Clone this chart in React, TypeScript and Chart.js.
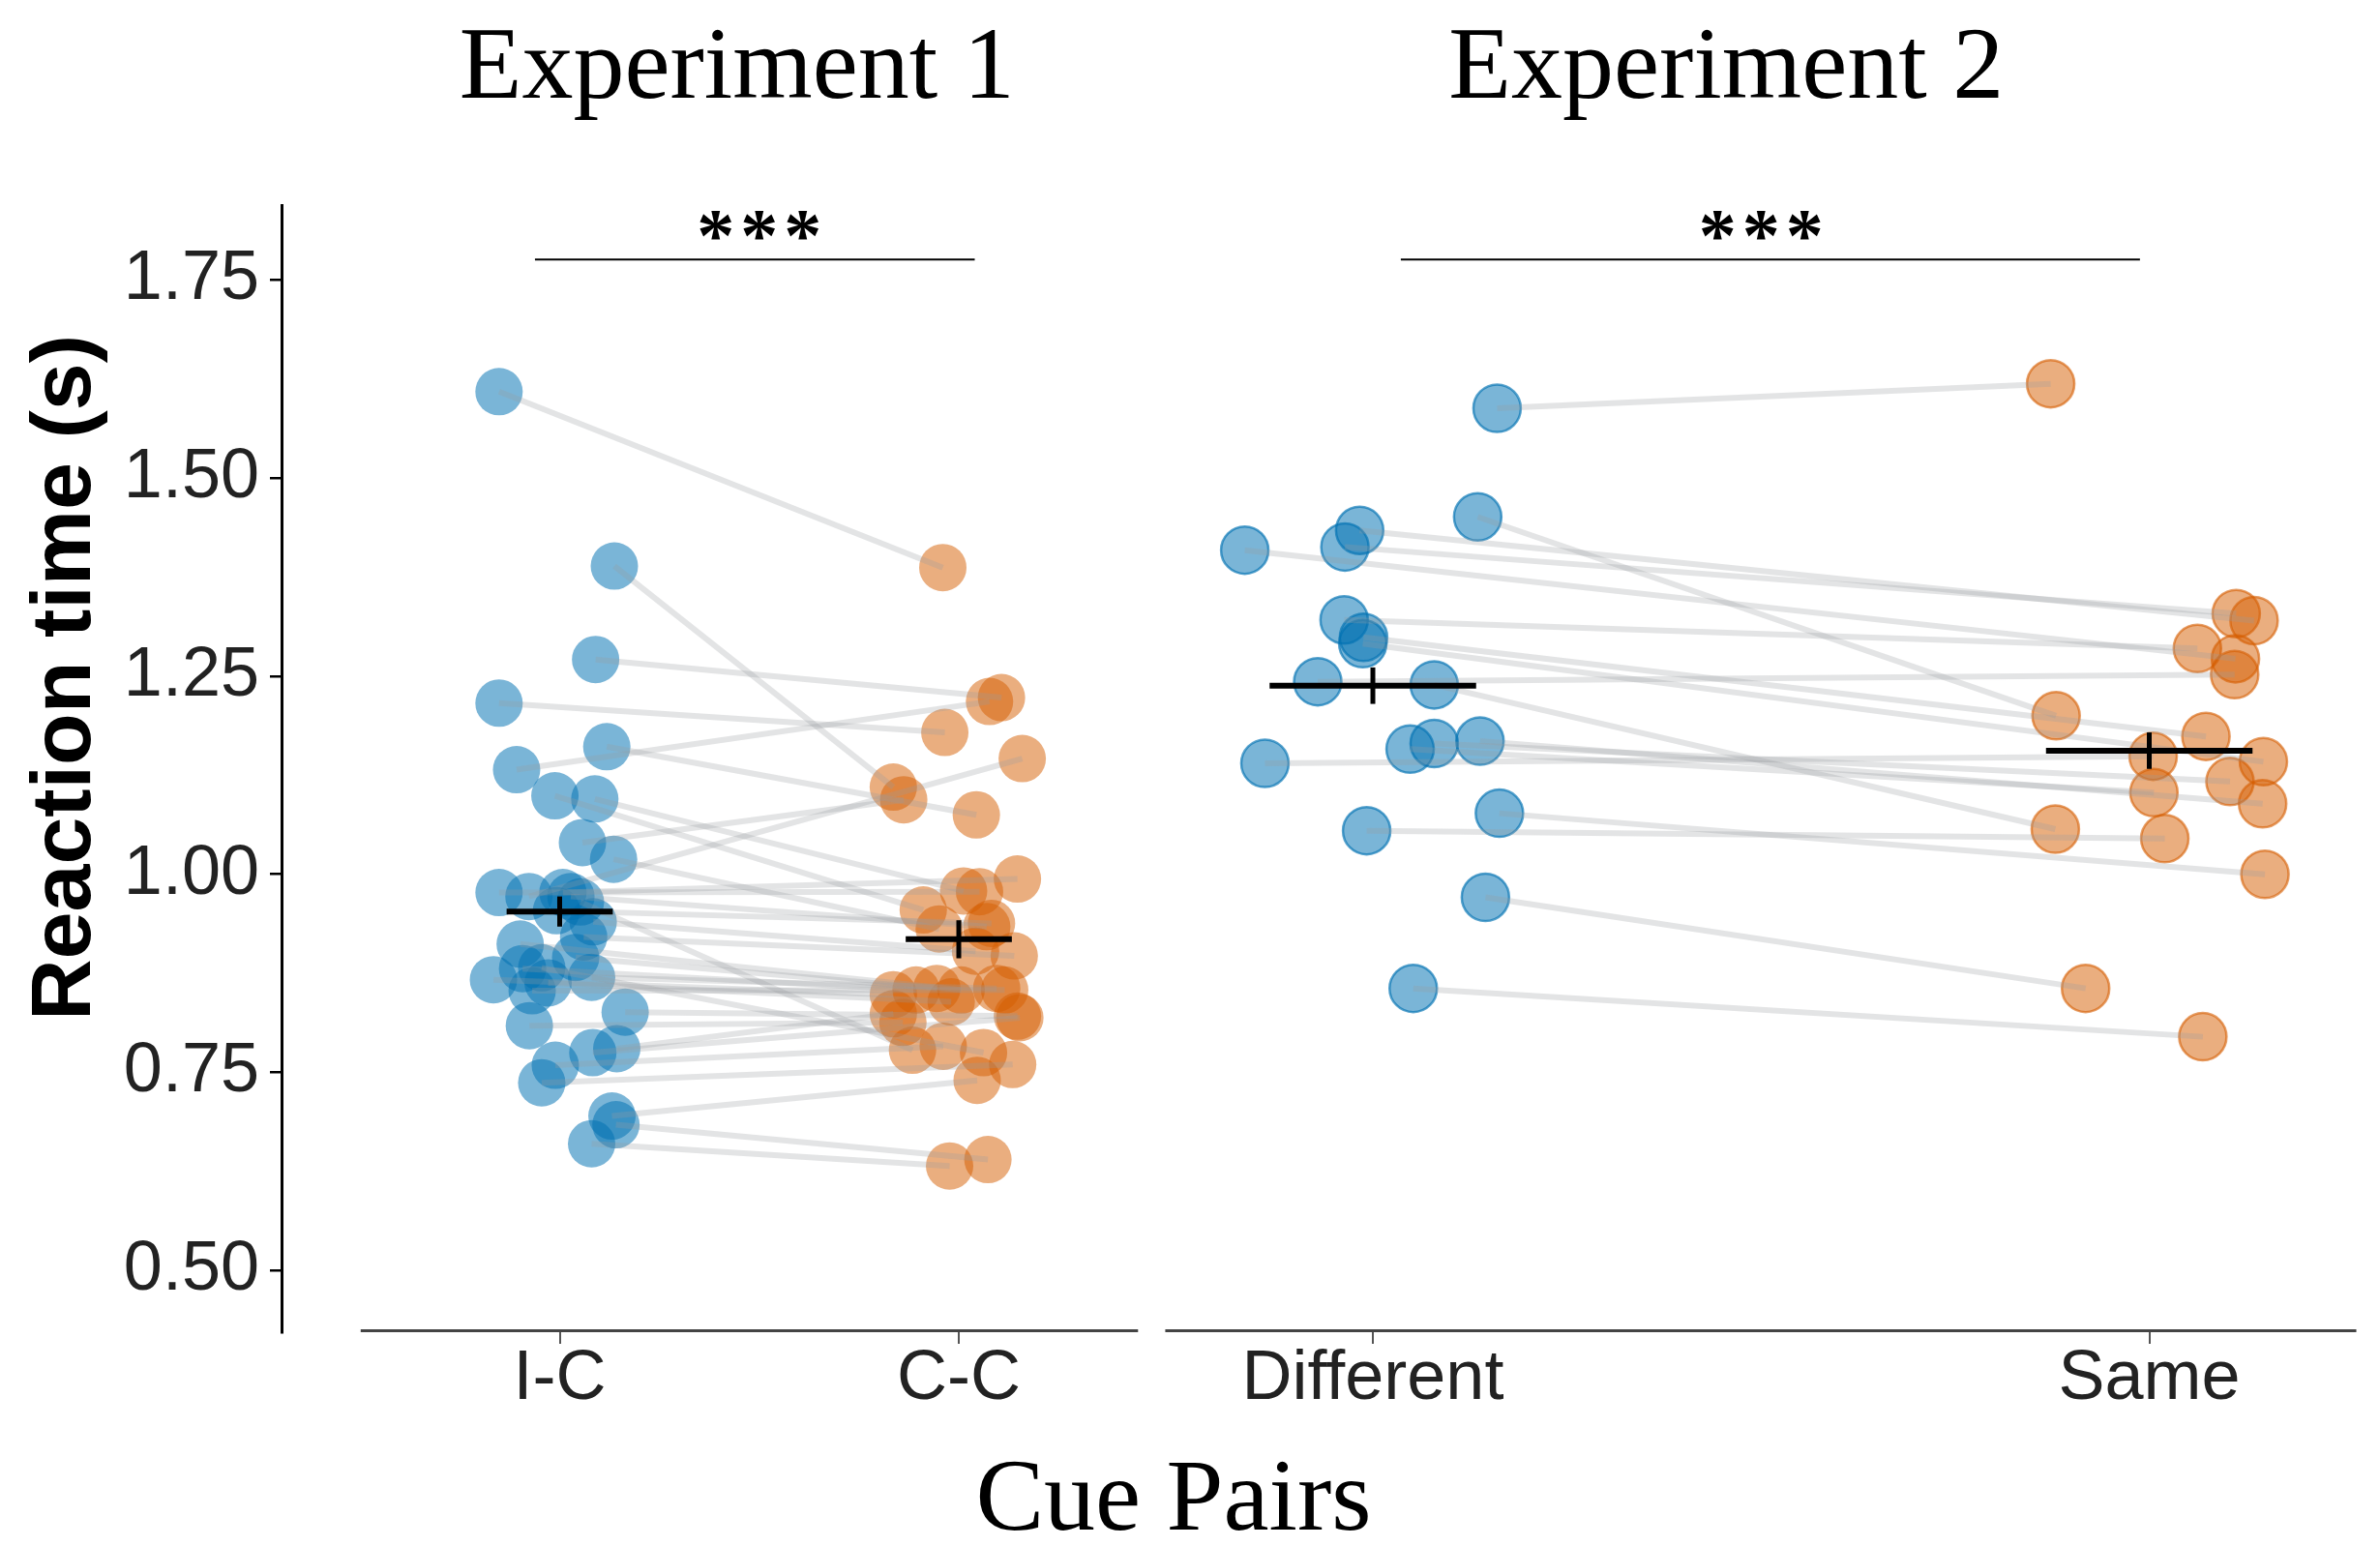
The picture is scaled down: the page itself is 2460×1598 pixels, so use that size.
import React, { useEffect, useRef } from 'react';
import { Chart, registerables } from 'chart.js';

Chart.register(...registerables);

// ---------------- DATA ----------------
// Experiment 1: one entry per subject, paired I-C / C-C reaction times (s)
const exp1IC = [
  1.609, 1.389, 1.271, 1.216, 1.161, 1.132, 1.099, 1.095, 1.040, 1.019,
  0.977, 0.972, 0.977, 0.972, 0.954, 0.940, 0.921, 0.912, 0.895, 0.881,
  0.867, 0.870, 0.863, 0.853, 0.809, 0.826, 0.775, 0.780, 0.759, 0.737,
  0.695, 0.684, 0.660, 0.965, 0.882,
];
const exp1CC = [
  1.387, 1.110, 1.223, 1.179, 1.075, 1.218, 0.955, 0.979, 1.094, 0.931,
  0.978, 1.146, 0.994, 0.934, 0.938, 0.903, 0.897, 0.854, 0.856, 0.854,
  0.848, 0.856, 0.839, 0.854, 0.813, 0.821, 0.819, 0.824, 0.783, 0.760,
  0.740, 0.640, 0.632, 0.778, 0.775,
];
// horizontal jitter of each point, in category units
const exp1ICJitter = [
  -0.152, 0.137, 0.090, -0.152, 0.118, -0.108, -0.012, 0.088, 0.057, 0.135,
  -0.152, -0.077, 0.008, 0.028, -0.008, 0.084, 0.060, -0.099, 0.040, -0.093,
  -0.166, 0.080, -0.029, -0.069, -0.076, 0.164, 0.083, 0.143, -0.011, -0.045,
  0.131, 0.141, 0.080, 0.052, -0.045,
];
const exp1CCJitter = [
  -0.040, -0.164, 0.107, -0.035, 0.044, 0.077, -0.089, 0.012, -0.138, -0.049,
  0.052, 0.159, 0.147, 0.070, 0.082, 0.042, 0.139, 0.006, -0.055, -0.107,
  -0.164, 0.095, -0.019, 0.115, -0.140, 0.147, 0.153, -0.164, -0.039, 0.135,
  0.046, 0.073, -0.023, -0.116, 0.062,
];

// Experiment 2: paired Different / Same reaction times (s)
const exp2Diff = [
  1.588, 1.451, 1.409, 1.434, 1.413, 1.321, 1.299, 1.291, 1.243, 1.239,
  1.140, 1.158, 1.165, 1.168, 1.077, 1.055, 0.971, 0.856,
];
const exp2Same = [
  1.619, 1.200, 1.272, 1.320, 1.329, 1.285, 1.174, 1.142, 1.252, 1.057,
  1.149, 1.103, 1.117, 1.089, 1.000, 1.045, 0.856, 0.795,
];
const exp2DiffJitter = [
  0.160, 0.135, -0.165, -0.017, -0.036, -0.037, -0.012, -0.013, -0.071, 0.079,
  -0.139, 0.048, 0.079, 0.138, 0.163, -0.008, 0.145, 0.052,
];
const exp2SameJitter = [
  -0.127, -0.120, 0.111, 0.135, 0.112, 0.062, 0.073, 0.147, 0.110, -0.121,
  0.005, 0.006, 0.104, 0.146, 0.149, 0.020, -0.082, 0.069,
];

const categoryLabels = ['I-C', 'C-C', 'Different', 'Same'];
const panelTitles = ['Experiment 1', 'Experiment 2'];
const conditionMeans = [0.953, 0.918, 1.238, 1.156];
const conditionErrors = [0.019, 0.024, 0.023, 0.023];
const yTicks = [0.5, 0.75, 1.0, 1.25, 1.5, 1.75];
const sigLabels = ['***', '***'];
const yTitle = 'Reaction time (s)';
const xTitle = 'Cue Pairs';

// ---------------- LAYOUT / STYLE ----------------
const W = 2460;
const H = 1598;
const LAYOUT = {
  yAxisWidth: 291,
  topAxisHeight: 212,
  bottomAxisHeight: 113,
  rightPad: 34,
  xMin: -0.697,
  xMax: 4.4788,
  panel2Offset: 2.0376,
  panel2Scale: 1.94545,
  yMin: 0.4222,
  yMax: 1.8444,
  pointRadius: 24.5,
  meanHalfWidth: 0.133,
  axisSegments: [
    [-0.4987, 1.4492],
    [-0.2674, 1.2667],
  ],
  titlePos: [0.444, 0.455],
  sigSpans: [
    [-0.062, 1.04],
    [0.036, 0.988],
  ],
  sigLevel: 1.7756,
  starsLevel: 1.82,
  yTitleX: 69,
  yTitleCenter: 1.248,
};

const panelX = (panel: number, c: number) =>
  panel === 0 ? c : LAYOUT.panel2Offset + c * LAYOUT.panel2Scale;
const panelUnit = (panel: number) => (panel === 0 ? 1 : LAYOUT.panel2Scale);

const BLUE_FILL = 'rgba(0,114,178,0.52)';
const ORANGE_FILL = 'rgba(213,94,0,0.5)';
const BLUE_EDGE = 'rgba(0,114,178,0.65)';
const ORANGE_EDGE = 'rgba(213,94,0,0.6)';
const LINE_GRAY = 'rgba(150,155,160,0.27)';

const decorations = {
  id: 'decorations',
  afterDraw(chart: any) {
    const { ctx, chartArea, scales } = chart;
    const xs = scales.x;
    const ys = scales.y;
    ctx.save();
    // broken x-axis lines, one per panel
    ctx.strokeStyle = '#444';
    ctx.lineWidth = 3;
    LAYOUT.axisSegments.forEach((seg, p) => {
      ctx.beginPath();
      ctx.moveTo(xs.getPixelForValue(panelX(p, seg[0])), chartArea.bottom - 1.5);
      ctx.lineTo(xs.getPixelForValue(panelX(p, seg[1])), chartArea.bottom - 1.5);
      ctx.stroke();
    });
    // significance stars
    const starSize = 78;
    ctx.fillStyle = '#000';
    ctx.font = `bold ${starSize}px "Liberation Serif", serif`;
    ctx.textAlign = 'center';
    ctx.textBaseline = 'alphabetic';
    try {
      (ctx as any).letterSpacing = '6px';
    } catch (e) {
      /* ignore */
    }
    sigLabels.forEach((s, p) => {
      ctx.fillText(
        s,
        xs.getPixelForValue(panelX(p, 0.5)) + 3,
        ys.getPixelForValue(LAYOUT.starsLevel) + 0.47 * starSize
      );
    });
    try {
      (ctx as any).letterSpacing = '0px';
    } catch (e) {
      /* ignore */
    }
    // y-axis title
    ctx.translate(LAYOUT.yTitleX, ys.getPixelForValue(LAYOUT.yTitleCenter));
    ctx.rotate(-Math.PI / 2);
    ctx.font = 'bold 88px "Liberation Sans", Arial, sans-serif';
    ctx.textBaseline = 'middle';
    ctx.textAlign = 'center';
    ctx.fillStyle = '#000';
    ctx.fillText(yTitle, 0, 0);
    ctx.restore();
  },
};

export default function App() {
  const ref = useRef<HTMLCanvasElement | null>(null);

  useEffect(() => {
    if (!ref.current) return;
    const datasets: any[] = [];

    // mean + error markers
    const condPanel = [0, 0, 1, 1];
    const condPos = [0, 1, 0, 1];
    conditionMeans.forEach((m, k) => {
      const p = condPanel[k];
      const cx = panelX(p, condPos[k]);
      const hw = LAYOUT.meanHalfWidth * panelUnit(p);
      datasets.push({
        type: 'scatter',
        xAxisID: 'x',
        yAxisID: 'y',
        data: [
          { x: cx - hw, y: m },
          { x: cx + hw, y: m },
        ],
        showLine: true,
        borderColor: '#000',
        borderWidth: 6,
        pointRadius: 0,
        order: 0,
      });
      datasets.push({
        type: 'scatter',
        xAxisID: 'x',
        yAxisID: 'y',
        data: [
          { x: cx, y: m - conditionErrors[k] },
          { x: cx, y: m + conditionErrors[k] },
        ],
        showLine: true,
        borderColor: '#000',
        borderWidth: 5,
        pointRadius: 0,
        order: 0,
      });
    });

    // significance bars
    LAYOUT.sigSpans.forEach((sp, p) => {
      datasets.push({
        type: 'scatter',
        xAxisID: 'x',
        yAxisID: 'y',
        data: [
          { x: panelX(p, sp[0]), y: LAYOUT.sigLevel },
          { x: panelX(p, sp[1]), y: LAYOUT.sigLevel },
        ],
        showLine: true,
        borderColor: '#000',
        borderWidth: 2,
        pointRadius: 0,
        order: 0,
      });
    });

    // subject lines
    exp1IC.forEach((v, i) => {
      datasets.push({
        type: 'scatter',
        xAxisID: 'x',
        yAxisID: 'y',
        data: [
          { x: panelX(0, 0 + exp1ICJitter[i]), y: v },
          { x: panelX(0, 1 + exp1CCJitter[i]), y: exp1CC[i] },
        ],
        showLine: true,
        borderColor: LINE_GRAY,
        borderWidth: 6,
        pointRadius: 0,
        order: 1,
      });
    });
    exp2Diff.forEach((v, i) => {
      datasets.push({
        type: 'scatter',
        xAxisID: 'x',
        yAxisID: 'y',
        data: [
          { x: panelX(1, 0 + exp2DiffJitter[i]), y: v },
          { x: panelX(1, 1 + exp2SameJitter[i]), y: exp2Same[i] },
        ],
        showLine: true,
        borderColor: LINE_GRAY,
        borderWidth: 6,
        pointRadius: 0,
        order: 1,
      });
    });

    // points
    const pointSet = (vals: number[], jit: number[], panel: number, pos: number, fill: string, edge: string, bw: number) => ({
      type: 'scatter',
      xAxisID: 'x',
      yAxisID: 'y',
      data: vals.map((v, i) => ({ x: panelX(panel, pos + jit[i]), y: v })),
      pointRadius: LAYOUT.pointRadius,
      pointBackgroundColor: fill,
      pointBorderColor: edge,
      pointBorderWidth: bw,
      showLine: false,
      order: 2,
    });
    datasets.push(pointSet(exp1IC, exp1ICJitter, 0, 0, BLUE_FILL, 'rgba(0,0,0,0)', 0));
    datasets.push(pointSet(exp1CC, exp1CCJitter, 0, 1, ORANGE_FILL, 'rgba(0,0,0,0)', 0));
    datasets.push(pointSet(exp2Diff, exp2DiffJitter, 1, 0, BLUE_FILL, BLUE_EDGE, 2.5));
    datasets.push(pointSet(exp2Same, exp2SameJitter, 1, 1, ORANGE_FILL, ORANGE_EDGE, 2.5));

    const bottomTicks = [panelX(0, 0), panelX(0, 1), panelX(1, 0), panelX(1, 1)];
    const topTicks = LAYOUT.titlePos.map((t, p) => panelX(p, t));

    const chart = new Chart(ref.current, {
      type: 'scatter',
      data: { datasets },
      plugins: [decorations],
      options: {
        animation: false,
        responsive: false,
        devicePixelRatio: 1,
        events: [],
        layout: { padding: { left: 0, right: LAYOUT.rightPad, top: 0, bottom: 0 } },
        plugins: {
          legend: { display: false },
          tooltip: { enabled: false },
          title: {
            display: true,
            position: 'bottom',
            text: xTitle,
            color: '#000',
            font: { family: '"Liberation Serif", serif', size: 106, weight: 'normal', lineHeight: 1 },
            padding: { top: 10, bottom: -8 },
          },
        },
        scales: {
          x: {
            type: 'linear',
            position: 'bottom',
            min: LAYOUT.xMin,
            max: LAYOUT.xMax,
            afterBuildTicks: (s: any) => {
              s.ticks = bottomTicks.map((v) => ({ value: v }));
            },
            afterFit: (s: any) => {
              s.height = LAYOUT.bottomAxisHeight;
            },
            ticks: {
              autoSkip: false,
              maxRotation: 0,
              minRotation: 0,
              callback: (_v: any, i: number) => categoryLabels[i],
              color: '#222',
              padding: 8,
              font: { family: '"Liberation Sans", Arial, sans-serif', size: 72, lineHeight: 0.8 },
            },
            grid: { display: true, drawOnChartArea: false, drawTicks: true, tickLength: 12, color: '#555', lineWidth: 2 },
            border: { display: false },
          },
          xt: {
            type: 'linear',
            position: 'top',
            min: LAYOUT.xMin,
            max: LAYOUT.xMax,
            afterBuildTicks: (s: any) => {
              s.ticks = topTicks.map((v) => ({ value: v }));
            },
            afterFit: (s: any) => {
              s.height = LAYOUT.topAxisHeight;
            },
            ticks: {
              autoSkip: false,
              maxRotation: 0,
              minRotation: 0,
              callback: (_v: any, i: number) => panelTitles[i],
              color: '#000',
              padding: 86,
              font: { family: '"Liberation Serif", serif', size: 106, lineHeight: 1 },
            },
            grid: { display: false, drawTicks: false },
            border: { display: false },
          },
          y: {
            type: 'linear',
            position: 'left',
            min: LAYOUT.yMin,
            max: LAYOUT.yMax,
            afterBuildTicks: (s: any) => {
              s.ticks = yTicks.map((v) => ({ value: v }));
            },
            afterFit: (s: any) => {
              s.width = LAYOUT.yAxisWidth;
            },
            ticks: {
              callback: (v: any) => Number(v).toFixed(2),
              color: '#222',
              padding: 11,
              font: { family: '"Liberation Sans", Arial, sans-serif', size: 72, lineHeight: 1 },
            },
            grid: { display: true, drawOnChartArea: false, drawTicks: true, tickLength: 12, color: '#000', lineWidth: 2.5 },
            border: { display: true, color: '#000', width: 3 },
          },
        },
      } as any,
    } as any);

    return () => chart.destroy();
  }, []);

  return (
    <div style={{ position: 'absolute', left: 0, top: 0, width: W, height: H, background: '#fff' }}>
      <canvas ref={ref} width={W} height={H} style={{ width: W, height: H, display: 'block' }} />
    </div>
  );
}
